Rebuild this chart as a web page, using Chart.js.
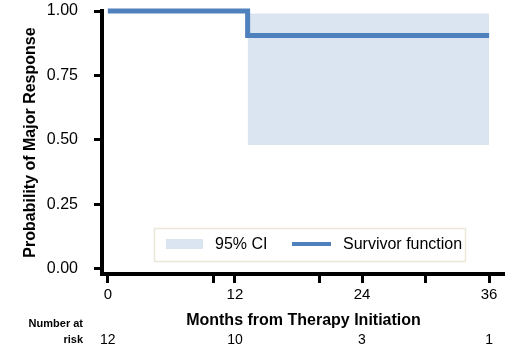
<!DOCTYPE html>
<html>
<head>
<meta charset="utf-8">
<script src="https://cdn.jsdelivr.net/npm/chart.js@4/dist/chart.umd.min.js"></script>
<style>
  html, body { margin: 0; padding: 0; background: #fff; }
  #wrap { width: 505px; height: 347px; }
</style>
</head>
<body>
<div id="wrap"><canvas id="myChart" width="505" height="347"></canvas></div>
<script>
// Datos
const tiempos = [0, 13.2, 36];
const supervivencia = [1.0, 0.905, 0.905];
const tiemposIC = [13.2, 36];
const icSuperior = [0.99, 0.99];
const icInferior = [0.48, 0.48];

const marcasX = [0, 10, 12, 20, 24, 30, 36];
const etiquetasX = [0, 12, 24, 36];
const marcasY = [0, 0.25, 0.5, 0.75, 1];

const riesgoTiempos = [0, 12, 24, 36];
const riesgoNumeros = [12, 10, 3, 1];

const azul = '#4f81bd';
const azulClaro = '#dbe5f1';
const fuente = 'Liberation Sans, Arial, sans-serif';

const ctx = document.getElementById('myChart').getContext('2d');

const extras = {
    id: 'extras',
    afterDraw(chart) {
        const c = chart.ctx;
        const x = chart.scales.x;
        c.save();

        // leyenda dentro del area
        const lx = 154, ly = 228, lw = 312, lh = 34;
        c.fillStyle = '#ffffff';
        c.fillRect(lx, ly, lw, lh);
        c.strokeStyle = '#ebe7d9';
        c.lineWidth = 1.5;
        c.strokeRect(lx + 0.5, ly + 0.5, lw - 1, lh - 1);

        c.fillStyle = azulClaro;
        c.fillRect(166, 239, 37, 10);
        c.strokeStyle = azul;
        c.lineWidth = 4;
        c.beginPath();
        c.moveTo(292, 244);
        c.lineTo(331, 244);
        c.stroke();

        c.fillStyle = '#000';
        c.font = '16px ' + fuente;
        c.textBaseline = 'middle';
        c.textAlign = 'left';
        c.fillText('95% CI', 215, 245);
        c.fillText('Survivor function', 343, 245);

        // numero en riesgo
        c.font = 'bold 11px ' + fuente;
        c.textAlign = 'right';
        c.fillText('Number at', 83, 324);
        c.fillText('risk', 83, 340);
        c.font = '14px ' + fuente;
        c.textAlign = 'center';
        riesgoTiempos.forEach((t, i) => {
            c.fillText(String(riesgoNumeros[i]), x.getPixelForValue(t), 340);
        });
        c.restore();
    }
};

const myChart = new Chart(ctx, {
    type: 'line',
    data: {
        datasets: [
            {
                label: '95% CI',
                data: tiemposIC.map((t, i) => ({ x: t, y: icSuperior[i] })),
                borderWidth: 0,
                pointRadius: 0,
                backgroundColor: azulClaro,
                fill: '+1',
                order: 2
            },
            {
                label: 'ci-low',
                data: tiemposIC.map((t, i) => ({ x: t, y: icInferior[i] })),
                borderWidth: 0,
                pointRadius: 0,
                backgroundColor: azulClaro,
                fill: false,
                order: 2
            },
            {
                label: 'Survivor function',
                data: tiempos.map((t, i) => ({ x: t, y: supervivencia[i] })),
                borderColor: azul,
                borderWidth: 5,
                pointRadius: 0,
                stepped: true,
                fill: false,
                clip: false,
                order: 1
            }
        ]
    },
    options: {
        responsive: false,
        animation: false,
        layout: { padding: { top: 11, left: 0, right: 0, bottom: 0 } },
        plugins: {
            legend: { display: false },
            tooltip: { enabled: false }
        },
        scales: {
            x: {
                type: 'linear',
                min: -0.55,
                max: 37.5,
                afterBuildTicks: s => { s.ticks = marcasX.map(v => ({ value: v })); },
                afterFit: s => { s.height = 73; s.paddingLeft = 0; s.paddingRight = 0; },
                ticks: {
                    autoSkip: false,
                    maxRotation: 0,
                    padding: 3,
                    color: '#000',
                    font: { family: fuente, size: 15 },
                    callback: v => etiquetasX.includes(v) ? String(v) : ''
                },
                grid: { drawOnChartArea: false, tickLength: 9, tickWidth: 3, tickColor: '#000' },
                border: { color: '#000', width: 4 },
                title: {
                    display: true,
                    text: 'Months from Therapy Initiation',
                    color: '#000',
                    font: { family: fuente, size: 16, weight: 'bold' },
                    padding: { top: 0, bottom: 17 }
                }
            },
            y: {
                min: -0.02,
                max: 1.0,
                afterBuildTicks: s => { s.ticks = marcasY.map(v => ({ value: v })); },
                afterFit: s => { s.width = 102; s.paddingTop = 0; s.paddingBottom = 0; },
                ticks: {
                    padding: 16,
                    color: '#000',
                    font: { family: fuente, size: 16 },
                    callback: v => Number(v).toFixed(2)
                },
                grid: { drawOnChartArea: false, tickLength: 8, tickWidth: 3, tickColor: '#000' },
                border: { color: '#000', width: 4 },
                title: {
                    display: true,
                    text: 'Probability of Major Response',
                    color: '#000',
                    font: { family: fuente, size: 16, weight: 'bold' },
                    padding: { top: 21, bottom: 0 }
                }
            }
        }
    },
    plugins: [extras]
});
</script>
</body>
</html>
